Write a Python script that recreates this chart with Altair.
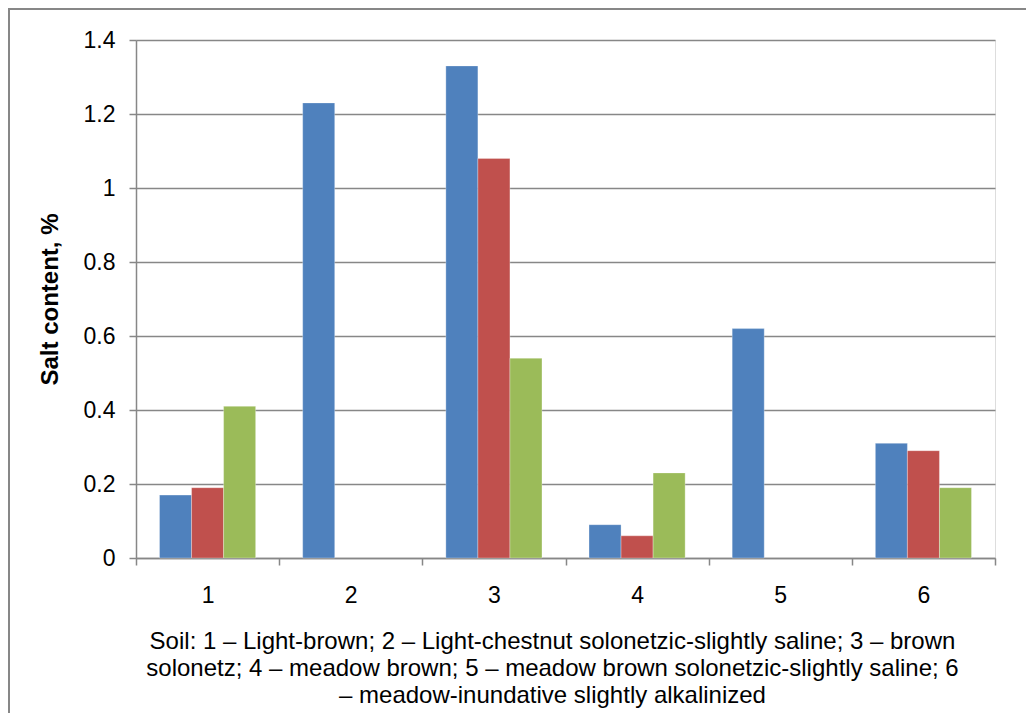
import altair as alt
import pandas as pd

categories = ["1", "2", "3", "4", "5", "6"]
series_names = ["Series 1", "Series 2", "Series 3"]
series1 = [0.17, 1.23, 1.33, 0.09, 0.62, 0.31]
series2 = [0.19, None, 1.08, 0.06, None, 0.29]
series3 = [0.41, None, 0.54, 0.23, None, 0.19]
colors = ["#4F81BD", "#C0504D", "#9BBB59"]
y_ticks = [0, 0.2, 0.4, 0.6, 0.8, 1.0, 1.2, 1.4]
x_title = [
    "Soil: 1 \u2013 Light-brown; 2 \u2013 Light-chestnut solonetzic-slightly saline; 3 \u2013 brown",
    "solonetz; 4 \u2013 meadow brown; 5 \u2013 meadow brown solonetzic-slightly saline; 6",
    "\u2013 meadow-inundative slightly alkalinized",
]
y_title = "Salt content, %"

rows = []
for name, vals in zip(series_names, [series1, series2, series3]):
    for c, v in zip(categories, vals):
        if v is not None:
            rows.append({"soil": c, "series": name, "value": v})
df = pd.DataFrame(rows)

FONT = "Liberation Sans"
GRAY = "#878787"

bars = alt.Chart(df).mark_bar(stroke="white", strokeWidth=0.5, strokeOpacity=0.6).encode(
    x=alt.X(
        "soil:N",
        sort=categories,
        scale=alt.Scale(domain=categories, paddingInner=0, paddingOuter=0),
        axis=alt.Axis(
            title=x_title,
            labelAngle=0,
            tickBand="extent",
            tickSize=7,
            tickColor=GRAY,
            tickWidth=1.5,
            domainColor=GRAY,
            domainWidth=1.5,
            labelFont=FONT,
            labelFontSize=23,
            labelColor="#000000",
            labelPadding=19,
            titleFont=FONT,
            titleFontSize=24,
            titleFontWeight="normal",
            titleColor="#000000",
            titlePadding=22,
            titleLineHeight=27,
            titleX=416,
            grid=False,
        ),
    ),
    xOffset=alt.XOffset(
        "series:N",
        scale=alt.Scale(domain=series_names, paddingInner=0, paddingOuter=0.734),
    ),
    y=alt.Y(
        "value:Q",
        scale=alt.Scale(domain=[0, 1.4], nice=False),
        axis=alt.Axis(
            title=y_title,
            values=y_ticks,
            format="~g",
            tickSize=7,
            tickColor=GRAY,
            tickWidth=1.5,
            domainColor=GRAY,
            domainWidth=1.5,
            gridColor=GRAY,
            gridWidth=1.6,
            labelFont=FONT,
            labelFontSize=23,
            labelColor="#000000",
            labelPadding=14,
            titleFont=FONT,
            titleFontSize=24,
            titleFontWeight="bold",
            titleColor="#000000",
            titlePadding=21,
        ),
    ),
    color=alt.Color(
        "series:N",
        scale=alt.Scale(domain=series_names, range=colors),
        legend=None,
    ),
)

frame = alt.Chart(pd.DataFrame({"a": [0]})).mark_rect(
    fill=None, stroke=GRAY, strokeWidth=2, clip=False
).encode(
    x=alt.value(-127),
    x2=alt.value(2000),
    y=alt.value(-31),
    y2=alt.value(2000),
)

chart = alt.layer(frame, bars).properties(
    width=859,
    height=518,
    padding={"left": 128, "top": 32, "right": 31, "bottom": 155},
    autosize=alt.AutoSizeParams(type="none"),
).configure_view(stroke=None).configure(background="white")

chart.save("out.html", embed_options={"renderer": "svg", "actions": False})
